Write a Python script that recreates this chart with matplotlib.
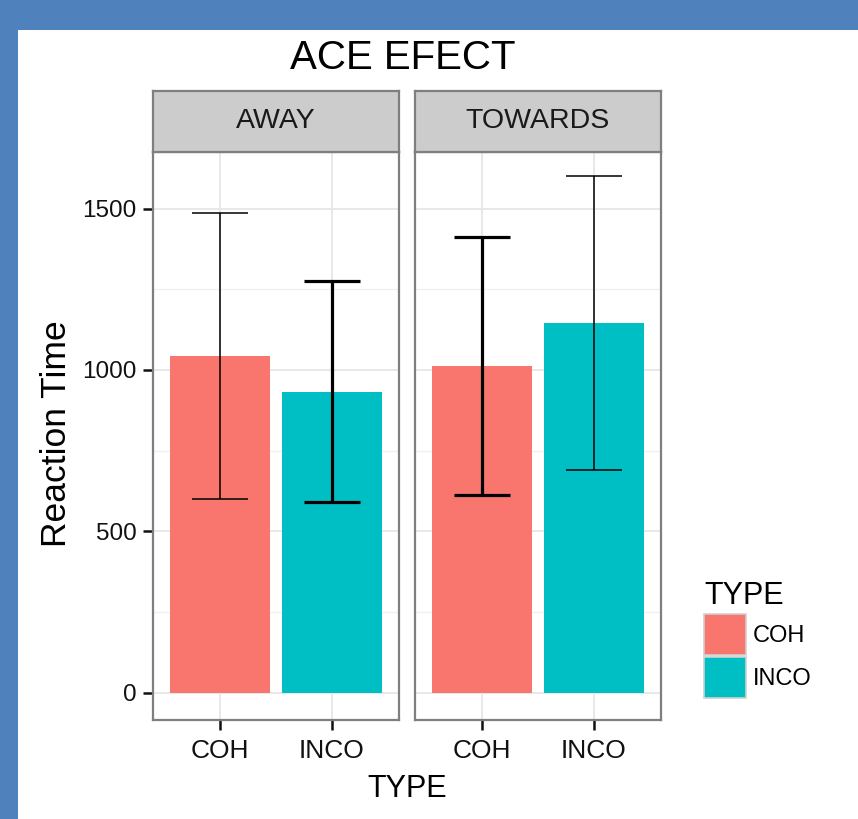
import matplotlib
matplotlib.use('Agg')
from matplotlib import pyplot as plt
from matplotlib.patches import Rectangle, Patch

plt.rcParams['font.family'] = ['Liberation Sans', 'DejaVu Sans']

facets = ['AWAY', 'TOWARDS']
types = ['COH', 'INCO']
away_mean = [1043, 933]
away_sd = [443, 341]
towards_mean = [1013, 1146]
towards_sd = [399, 455]
colors = ['#F8766D', '#00BFC4']
yticks = [0, 500, 1000, 1500]
yminor = [250, 750, 1250]

W, H = 858, 819


def box(x0, y0, x1, y1):
    # pixel box (top-left origin) -> figure fraction rect
    return [x0 / W, 1 - y1 / H, (x1 - x0) / W, (y1 - y0) / H]


fig = plt.figure(figsize=(W / 100, H / 100), dpi=100)
fig.patch.set_facecolor('#4F81BD')
fig.add_artist(Rectangle((18 / W, 0), 1, 1 - 30 / H, transform=fig.transFigure,
                         fc='white', ec='none', zorder=-5))

panels = [(153, 399), (415, 661)]
data = [(away_mean, away_sd, [1.1, 2.3]), (towards_mean, towards_sd, [2.3, 1.1])]
xpos = [1, 2]

for i, (facet, (x0, x1), (means, sds, lws)) in enumerate(zip(facets, panels, data)):
    ax = fig.add_axes(box(x0, 152, x1, 720))
    ax.set_xlim(0.4, 2.6)
    ax.set_ylim(-84, 1675)
    ax.set_yticks(yticks)
    ax.set_yticks(yminor, minor=True)
    ax.set_xticks(xpos)
    ax.set_xticklabels(types)
    ax.grid(True, which='major', color='#E6E6E6', lw=1.3, zorder=0)
    ax.grid(True, which='minor', axis='y', color='#F0F0F0', lw=0.9, zorder=0)
    ax.set_axisbelow(True)
    ax.bar(xpos, means, width=0.9, color=colors, zorder=2)
    for x, m, s, lw in zip(xpos, means, sds, lws):
        ax.vlines(x, m - s, m + s, color='black', lw=lw, zorder=3)
        ax.hlines([m - s, m + s], x - 0.25, x + 0.25, color='black', lw=lw, zorder=3)
    for sp in ax.spines.values():
        sp.set_color('#7F7F7F')
        sp.set_linewidth(1.6)
    ax.tick_params(axis='x', length=7, width=1.8, labelsize=19, pad=7, colors='#111111')
    ax.tick_params(axis='y', which='major', length=7, width=1.8, labelsize=17.5, pad=5,
                   colors='#111111')
    ax.tick_params(axis='y', which='minor', length=0)
    if i > 0:
        ax.tick_params(axis='y', which='major', length=0, labelleft=False)

    strip = fig.add_axes(box(x0, 91, x1, 152))
    strip.set_facecolor('#CCCCCC')
    strip.set_xticks([])
    strip.set_yticks([])
    for sp in strip.spines.values():
        sp.set_color('#7F7F7F')
        sp.set_linewidth(1.6)
    strip.text(0.5, 0.5, facet, ha='center', va='center', fontsize=20.5,
               color='#1A1A1A', transform=strip.transAxes)

fig.text(403 / W, 1 - 58 / H, 'ACE EFECT', ha='center', va='center', fontsize=29)
fig.text(57 / W, 1 - 434 / H, 'Reaction Time', ha='center', va='center',
         rotation=90, fontsize=25.5)
fig.text(407 / W, 1 - 789 / H, 'TYPE', ha='center', va='center', fontsize=22)

handles = [Patch(facecolor=c, edgecolor='#D0D0D0', lw=1.2) for c in colors]
fig.legend(handles, types, title='TYPE', loc='upper left',
           bbox_to_anchor=(695 / W, 1 - 572 / H), frameon=False,
           fontsize=17, title_fontsize=22, handlelength=1.75, handleheight=2.3,
           handletextpad=0.3, labelspacing=0.1, borderaxespad=0,
           alignment='left')

fig.savefig('out.png', dpi=100, facecolor=fig.get_facecolor())
